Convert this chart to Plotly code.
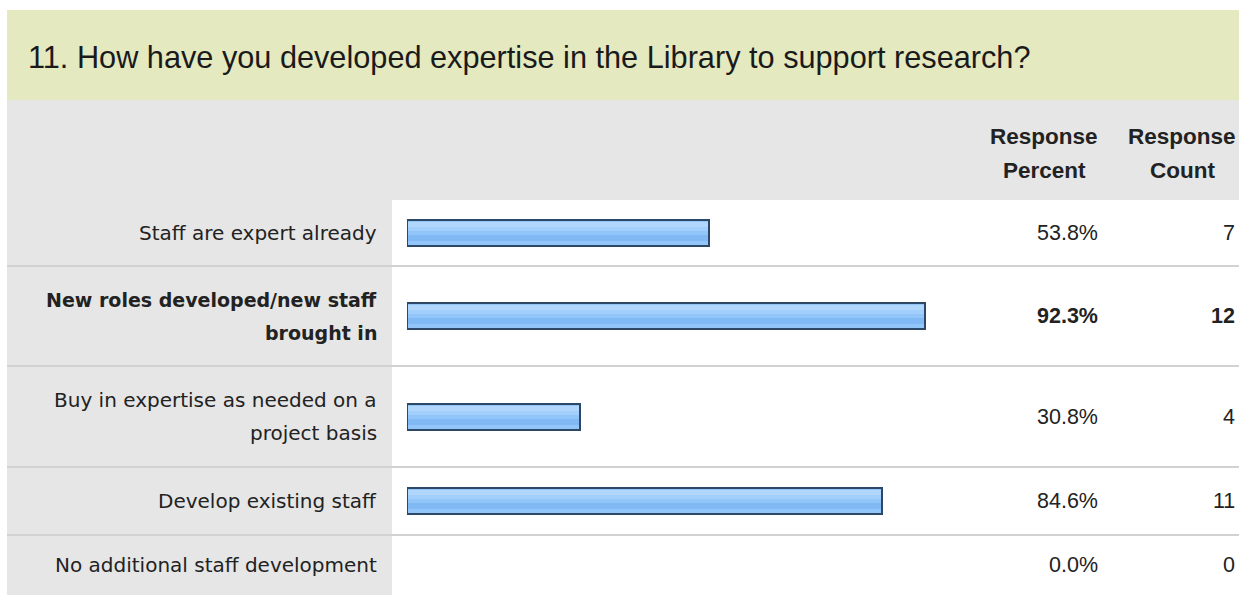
import plotly.graph_objects as go

# ---------------- data ----------------
title_text = "11. How have you developed expertise in the Library to support research?"
categories = [
    "Staff are expert already",
    "New roles developed/new staff\nbrought in",
    "Buy in expertise as needed on a\nproject basis",
    "Develop existing staff",
    "No additional staff development",
]
percent = [53.8, 92.3, 30.8, 84.6, 0.0]
counts = [7, 12, 4, 11, 0]
bold_rows = [False, True, False, False, False]
header_percent = ["Response", "Percent"]
header_count = ["Response", "Count"]

# ---------------- layout constants (pixels) ----------------
W, H = 1239, 595
row_edges = [200, 266, 366, 467, 535, 595]
row_centers = [(a + b) / 2 for a, b in zip(row_edges[:-1], row_edges[1:])]
x0_bar, x100_bar = 407, 968
label_right = 379
pct_right = 1100
cnt_right = 1237
line_gap = 33

GREEN = "#e4e9c0"
GRAY = "#e6e6e6"
SEP = "#d2d2d2"
TXT = "#222222"


def px(x):
    return x / W


def py(y):
    return 1 - y / H


fig = go.Figure()

border_w = [2 if p > 0 else 0 for p in percent]
inner = [max(p - 0.3, 0) for p in percent]

# bars: base with border, plus shading strips to mimic the gradient
fig.add_trace(go.Bar(
    x=percent, y=row_centers, orientation="h", width=26,
    marker=dict(color="#93c6f8", line=dict(color="#2d4767", width=border_w)),
    hoverinfo="skip", showlegend=False,
))
fig.add_trace(go.Bar(
    x=inner, y=row_centers, orientation="h", width=5,
    offset=-11, base=0.2,
    marker=dict(color="#b1d7fd", line=dict(width=0)),
    hoverinfo="skip", showlegend=False,
))
fig.add_trace(go.Bar(
    x=inner, y=row_centers, orientation="h", width=4,
    offset=-6, base=0.2,
    marker=dict(color="#a2cffb", line=dict(width=0)),
    hoverinfo="skip", showlegend=False,
))
fig.add_trace(go.Bar(
    x=inner, y=row_centers, orientation="h", width=6,
    offset=2, base=0.2,
    marker=dict(color="#81b9f4", line=dict(width=0)),
    hoverinfo="skip", showlegend=False,
))

shapes = []
# title band
shapes.append(dict(type="rect", xref="paper", yref="paper", x0=px(7), x1=1, y0=py(100), y1=py(10),
                   fillcolor=GREEN, line=dict(width=0), layer="below"))
# header band
shapes.append(dict(type="rect", xref="paper", yref="paper", x0=px(7), x1=1, y0=py(200), y1=py(100),
                   fillcolor=GRAY, line=dict(width=0), layer="below"))
# label column
shapes.append(dict(type="rect", xref="paper", yref="paper", x0=px(7), x1=px(392), y0=0, y1=py(200),
                   fillcolor=GRAY, line=dict(width=0), layer="below"))
# separators
for yb in row_edges[1:-1]:
    shapes.append(dict(type="line", xref="paper", yref="paper", x0=px(7), x1=1, y0=py(yb), y1=py(yb),
                       line=dict(color=SEP, width=2), layer="below"))

annotations = []
FONT_T = "Liberation Sans, Arial, sans-serif"
FONT_L = "DejaVu Sans, Verdana, sans-serif"

annotations.append(dict(text=title_text, x=px(26), y=py(58), xref="paper", yref="paper",
                        xanchor="left", yanchor="middle", showarrow=False,
                        font=dict(family=FONT_T, size=30.7, color="#1a1a1a")))

for a, b in [(1044, header_percent), (1182, header_count)]:
    for j, t in enumerate(b):
        annotations.append(dict(text="<b>" + t + "</b>", x=px(a), y=py(137 + j * line_gap),
                                xref="paper", yref="paper", xanchor="center", yanchor="middle",
                                showarrow=False, font=dict(family=FONT_T, size=22.5, color=TXT)))

for i, cat in enumerate(categories):
    lines = cat.split("\n")
    c = row_centers[i]
    n = len(lines)
    for j, ln in enumerate(lines):
        yy = c + (j - (n - 1) / 2) * line_gap
        t = "<b>" + ln + "</b>" if bold_rows[i] else ln
        annotations.append(dict(text=t, x=px(label_right), y=py(yy), xref="paper", yref="paper",
                                xanchor="right", yanchor="middle", showarrow=False,
                                font=dict(family=FONT_L, size=19 if bold_rows[i] else 20, color=TXT)))
    pt = f"{percent[i]:.1f}%"
    ct = str(counts[i])
    if bold_rows[i]:
        pt, ct = "<b>" + pt + "</b>", "<b>" + ct + "</b>"
    annotations.append(dict(text=pt, x=px(pct_right), y=py(c), xref="paper", yref="paper",
                            xanchor="right", yanchor="middle", showarrow=False,
                            font=dict(family=FONT_T, size=21.5, color=TXT)))
    annotations.append(dict(text=ct, x=px(cnt_right), y=py(c), xref="paper", yref="paper",
                            xanchor="right", yanchor="middle", showarrow=False,
                            font=dict(family=FONT_T, size=21.5, color=TXT)))

fig.update_layout(
    width=W, height=H,
    margin=dict(l=0, r=0, t=0, b=0),
    paper_bgcolor="white", plot_bgcolor="rgba(0,0,0,0)",
    barmode="overlay",
    bargap=0,
    xaxis=dict(domain=[px(x0_bar), px(x100_bar)], range=[0, 100], visible=False, fixedrange=True),
    yaxis=dict(domain=[0, 1], range=[H, 0], visible=False, fixedrange=True),
    shapes=shapes, annotations=annotations,
    showlegend=False,
)

fig.write_html("out.html", config={"displayModeBar": False})
